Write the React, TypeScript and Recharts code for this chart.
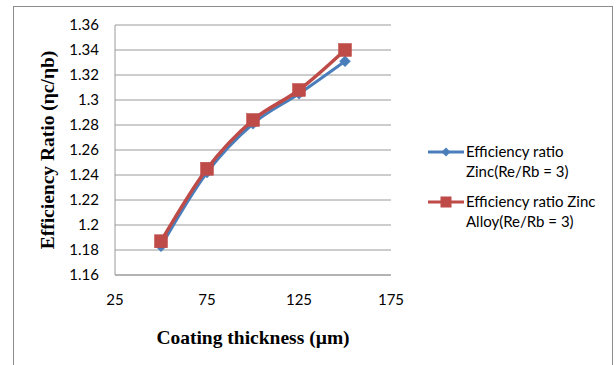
import React from "react";
import { LineChart, Line, XAxis, YAxis, CartesianGrid, Legend, Label } from "recharts";

// Coating thickness (µm)
const thickness = [50, 75, 100, 125, 150];
// Efficiency ratio ηc/ηb for each coating
const zincRatio = [1.183, 1.242, 1.281, 1.305, 1.331];
const zincAlloyRatio = [1.187, 1.245, 1.284, 1.308, 1.34];

const xTicks = [25, 75, 125, 175];
const yTicks = [1.16, 1.18, 1.2, 1.22, 1.24, 1.26, 1.28, 1.3, 1.32, 1.34, 1.36];

const seriesNames = {
  zinc: "Efficiency ratio Zinc(Re/Rb = 3)",
  alloy: "Efficiency ratio Zinc Alloy(Re/Rb = 3)",
};

const BLUE = "#4a7ebb";
const RED = "#be4b48";
const GRID = "#9a9a9a";
const TICK_FONT = "Lato, 'Open Sans', sans-serif";
const TITLE_FONT = "'Liberation Serif', 'DejaVu Serif', serif";

const rows = thickness.map((t, i) => ({
  t,
  zinc: zincRatio[i],
  alloy: zincAlloyRatio[i],
}));

const fmt = (v: number) => String(Number(v.toFixed(2)));

const Diamond = (props: any) => {
  const { cx, cy } = props;
  if (cx == null || cy == null) return null;
  const r = 5.5;
  return (
    <path
      d={`M${cx},${cy - r}L${cx + r},${cy}L${cx},${cy + r}L${cx - r},${cy}Z`}
      fill={BLUE}
      stroke={BLUE}
      strokeWidth={0.5}
    />
  );
};

const Square = (props: any) => {
  const { cx, cy } = props;
  if (cx == null || cy == null) return null;
  const s = 13;
  return <rect x={cx - s / 2} y={cy - s / 2} width={s} height={s} fill={RED} stroke={RED} strokeWidth={0.5} />;
};

const LegendIcon = ({ kind }: { kind: "zinc" | "alloy" }) => (
  <svg width={36} height={14} style={{ flex: "none", marginTop: 4 }}>
    <line x1={0} y1={7} x2={36} y2={7} stroke={kind === "zinc" ? BLUE : RED} strokeWidth={3} />
    {kind === "zinc" ? (
      <path d="M18,2.5L22.5,7L18,11.5L13.5,7Z" fill={BLUE} />
    ) : (
      <rect x={12.5} y={1.5} width={11} height={11} fill={RED} />
    )}
  </svg>
);

const LegendBox = () => (
  <div
    style={{
      fontFamily: TICK_FONT,
      fontSize: 15,
      lineHeight: "20px",
      color: "#000",
      textAlign: "left",
    }}
  >
    {(["zinc", "alloy"] as const).map((k, i) => (
      <div key={k} style={{ display: "flex", alignItems: "flex-start", marginTop: i === 0 ? 0 : 10 }}>
        <LegendIcon kind={k} />
        <div style={{ width: 140, marginLeft: 2 }}>{seriesNames[k]}</div>
      </div>
    ))}
  </div>
);

const YTitle = (props: any) => {
  const { viewBox } = props;
  const cx = viewBox.x + 47;
  const cy = viewBox.y + viewBox.height / 2;
  return (
    <text
      x={cx}
      y={cy}
      transform={`rotate(-90, ${cx}, ${cy})`}
      textAnchor="middle"
      dominantBaseline="central"
      fontFamily={TITLE_FONT}
      fontWeight="bold"
      fontSize={19.5}
      fill="#000"
    >
      Efficiency Ratio (ηc/ηb)
    </text>
  );
};

const XTitle = (props: any) => {
  const { viewBox } = props;
  const cx = viewBox.x + viewBox.width / 2;
  const cy = viewBox.y + 62;
  return (
    <text
      x={cx}
      y={cy}
      textAnchor="middle"
      dominantBaseline="central"
      fontFamily={TITLE_FONT}
      fontWeight="bold"
      fontSize={19.5}
      fill="#000"
    >
      Coating thickness (µm)
    </text>
  );
};

export default function App() {
  return (
    <div style={{ position: "absolute", left: 0, top: 0, width: 616, height: 365, background: "#fff" }}>
      <div
        style={{
          position: "absolute",
          left: 13,
          top: 6,
          width: 600,
          height: 365,
          borderTop: "1.5px solid #8c8c8c",
          borderLeft: "1.5px solid #8c8c8c",
          borderRight: "1.5px solid #8c8c8c",
          boxSizing: "border-box",
        }}
      />
      <LineChart
        width={616}
        height={365}
        data={rows}
        margin={{ top: 25, right: 225, left: 0, bottom: 0 }}
        style={{ position: "absolute", left: 0, top: 0 }}
      >
        <CartesianGrid horizontal vertical={false} stroke={GRID} strokeWidth={1} />
        <XAxis
          dataKey="t"
          type="number"
          domain={[25, 175]}
          ticks={xTicks}
          height={90}
          tickLine={false}
          tickSize={0}
          tickMargin={19}
          axisLine={{ stroke: GRID }}
          tick={{ fontFamily: TICK_FONT, fontSize: 15, fill: "#000" }}
        >
          <Label content={<XTitle />} />
        </XAxis>
        <YAxis
          type="number"
          domain={[1.16, 1.36]}
          ticks={yTicks}
          width={115}
          tickFormatter={fmt}
          tickLine={false}
          tickSize={0}
          tickMargin={16}
          axisLine={{ stroke: GRID }}
          tick={{ fontFamily: TICK_FONT, fontSize: 15, fill: "#000" }}
          interval={0}
        >
          <Label content={<YTitle />} />
        </YAxis>
        <Legend
          content={<LegendBox />}
          layout="vertical"
          verticalAlign="middle"
          align="center"
          wrapperStyle={{ left: 428, top: 141, width: 185 }}
        />
        <Line
          type="monotone"
          dataKey="zinc"
          name={seriesNames.zinc}
          stroke={BLUE}
          strokeWidth={3}
          dot={<Diamond />}
          activeDot={false}
          isAnimationActive={false}
        />
        <Line
          type="monotone"
          dataKey="alloy"
          name={seriesNames.alloy}
          stroke={RED}
          strokeWidth={3.5}
          dot={<Square />}
          activeDot={false}
          isAnimationActive={false}
        />
      </LineChart>
    </div>
  );
}
